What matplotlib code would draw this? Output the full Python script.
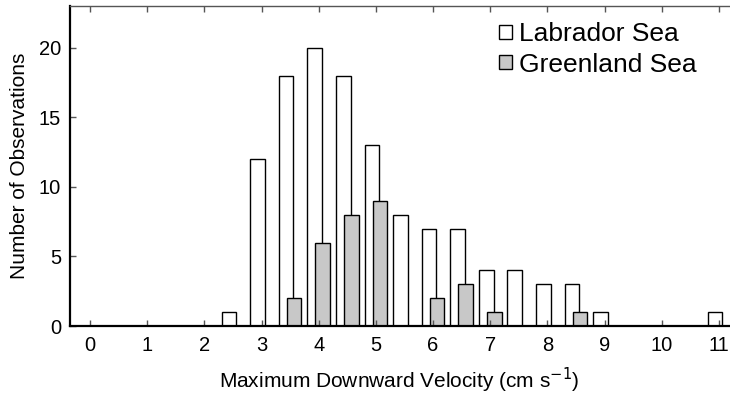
import matplotlib
matplotlib.use("Agg")
import matplotlib.pyplot as plt
from matplotlib.patches import Patch

plt.rcParams['font.family'] = ['Liberation Sans', 'DejaVu Sans']

# Data
bin_centers = [0, 0.5, 1, 1.5, 2, 2.5, 3, 3.5, 4, 4.5, 5, 5.5, 6, 6.5, 7, 7.5,
               8, 8.5, 9, 9.5, 10, 10.5, 11]
labrador = [0, 0, 0, 0, 0, 1, 12, 18, 20, 18, 13, 8, 7, 7, 4, 4,
            3, 3, 1, 0, 0, 0, 1]
greenland = [0, 0, 0, 0, 0, 0, 0, 2, 6, 8, 9, 0, 2, 3, 1, 0,
             0, 1, 0, 0, 0, 0, 0]
xticks = list(range(0, 12))
yticks = [0, 5, 10, 15, 20]
series_names = ["Labrador Sea", "Greenland Sea"]

W, H = 730, 394
fig = plt.figure(figsize=(W / 100, H / 100), dpi=100)
ax_left, ax_right, ax_top, ax_bottom = 69.5, 730, 6, 326
ax = fig.add_axes([ax_left / W, (H - ax_bottom) / H,
                   (ax_right - ax_left) / W, (ax_bottom - ax_top) / H])

off = 0.07
w = 0.257
lab_pts = [(b - off, v) for b, v in zip(bin_centers, labrador) if v > 0]
gre_pts = [(b + off, v) for b, v in zip(bin_centers, greenland) if v > 0]

ax.bar([p[0] for p in lab_pts], [p[1] for p in lab_pts],
       width=w, color='white', edgecolor='black', linewidth=1.0, zorder=1)
ax.bar([p[0] for p in gre_pts], [p[1] for p in gre_pts],
       width=w, color='#c8c8c8', edgecolor='black', linewidth=1.0, zorder=1.1)

units_per_px = 1 / 57.18
x0 = -(90 - ax_left) * units_per_px
ax.set_xlim(x0, x0 + (ax_right - ax_left) * units_per_px)
ax.set_ylim(0, 23)
ax.set_xticks(xticks)
ax.set_yticks(yticks)
ax.tick_params(direction='in', length=4, width=1, color='#555555',
               top=True, right=False, labelsize=14.5)
ax.tick_params(axis='x', pad=7)
ax.tick_params(axis='y', pad=6)

for s in ['left', 'bottom']:
    ax.spines[s].set_linewidth(1.6)
    ax.spines[s].set_color('black')
ax.spines['top'].set_linewidth(1.0)
ax.spines['top'].set_color('#555555')
ax.spines['right'].set_visible(False)

ax.set_xlabel("Maximum Downward Velocity (cm s$^{-1}$)", fontsize=15, labelpad=8)
ax.set_ylabel("Number of Observations", fontsize=15, labelpad=7)

handles = [Patch(facecolor='white', edgecolor='black', linewidth=1.0),
           Patch(facecolor='#c8c8c8', edgecolor='black', linewidth=1.0)]
leg = ax.legend(handles, series_names, loc='upper left',
                bbox_to_anchor=((499 - ax_left) / (ax_right - ax_left),
                                1 - (22 - ax_top) / (ax_bottom - ax_top)),
                frameon=False, fontsize=19, borderpad=0, borderaxespad=0,
                handlelength=0.5, handleheight=0.45, handletextpad=0.25,
                labelspacing=0.25)

fig.savefig("out.png", dpi=100)
